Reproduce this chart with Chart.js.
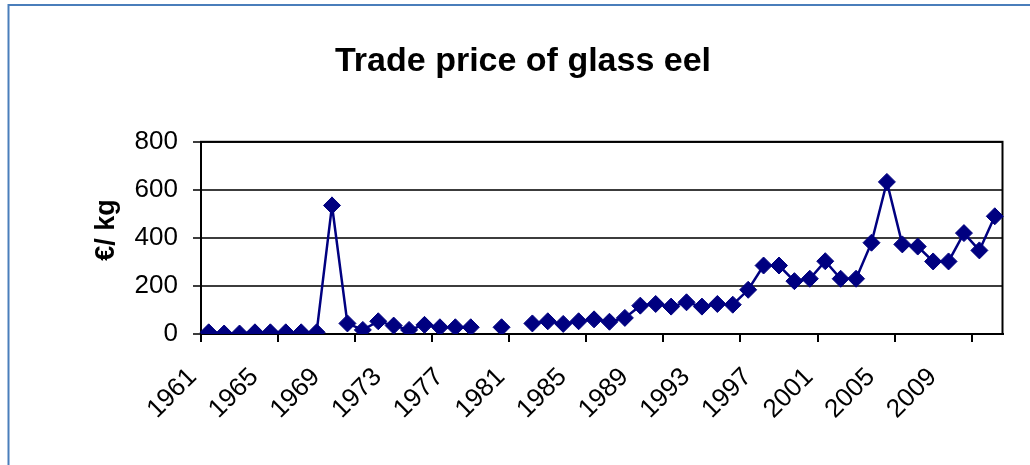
<!DOCTYPE html>
<html>
<head>
<meta charset="utf-8">
<script src="https://cdn.jsdelivr.net/npm/chart.js@4.4.1/dist/chart.umd.min.js"></script>
<style>
  html, body { margin: 0; padding: 0; background: #ffffff; overflow: hidden; }
  #wrap { position: absolute; left: 0; top: 0; width: 1030px; height: 465px; }
</style>
</head>
<body>
<div id="wrap"><canvas id="c" width="1030" height="465"></canvas></div>
<script>
// ---- data ----
const chartTitle = 'Trade price of glass eel';
const yAxisTitle = '€/ kg';
const years = ['1961','1962','1963','1964','1965','1966','1967','1968','1969','1970',
               '1971','1972','1973','1974','1975','1976','1977','1978','1979','1980',
               '1981','1982','1983','1984','1985','1986','1987','1988','1989','1990',
               '1991','1992','1993','1994','1995','1996','1997','1998','1999','2000',
               '2001','2002','2003','2004','2005','2006','2007','2008','2009','2010',
               '2011','2012'];
const prices = [7, 2, 2, 7, 7, 7, 7, 7, 535, 44,
                17, 53, 35, 17, 38, 28, 28, 28, null, 28,
                null, 44, 53, 42, 53, 61, 51, 67, 118, 125,
                114, 132, 114, 125, 122, 184, 285, 285, 220, 230,
                303, 230, 230, 380, 633, 373, 364, 302, 302, 420,
                348, 490];
const yTicks = [0, 200, 400, 600, 800];
const labelEvery = 4;    // category labels interval
const tickMarkEvery = 5; // tick marks interval

const FONT = "'Liberation Sans', Arial, sans-serif";
const NAVY = '#000080';

const framePlugin = {
  id: 'frames',
  beforeDraw(chart) {
    const ctx = chart.ctx;
    ctx.save();
    ctx.strokeStyle = '#4a7ebb';
    ctx.lineWidth = 2;
    ctx.strokeRect(8.5, 5, 1100, 600);
    ctx.restore();
  },
  beforeDatasetsDraw(chart) {
    const a = chart.chartArea;
    const ctx = chart.ctx;
    ctx.save();
    ctx.strokeStyle = '#000000';
    ctx.lineWidth = 2;
    ctx.strokeRect(a.left, a.top, a.right - a.left, a.bottom - a.top);
    ctx.restore();
  },
  afterDraw(chart) {
    // y axis title, drawn rotated like the original
    const ctx = chart.ctx;
    const a = chart.chartArea;
    ctx.save();
    ctx.translate(106.5, (a.top + a.bottom) / 2 - 8);
    ctx.rotate(-Math.PI / 2);
    ctx.fillStyle = '#000000';
    ctx.font = 'bold 27px ' + FONT;
    ctx.textAlign = 'center';
    ctx.textBaseline = 'middle';
    ctx.fillText(yAxisTitle, 0, 0);
    ctx.restore();
  }
};

new Chart(document.getElementById('c'), {
  type: 'line',
  data: {
    labels: years,
    datasets: [{
      data: prices,
      borderColor: NAVY,
      backgroundColor: NAVY,
      borderWidth: 2.5,
      pointStyle: 'rectRot',
      pointRadius: 8.5,
      pointBorderWidth: 1,
      pointBackgroundColor: NAVY,
      pointBorderColor: NAVY,
      spanGaps: false,
      tension: 0
    }]
  },
  options: {
    responsive: false,
    animation: false,
    events: [],
    layout: { padding: { left: 16, right: 0, top: 0, bottom: 0 } },
    plugins: {
      legend: { display: false },
      tooltip: { enabled: false },
      title: {
        display: true,
        text: chartTitle,
        color: '#000000',
        font: { family: FONT, size: 34, weight: 'bold' },
        padding: { top: 41, bottom: 60 }
      }
    },
    scales: {
      x: {
        type: 'category',
        offset: true,
        afterFit(scale) {
          scale.height = 131;
          scale.paddingLeft = 0;
          scale.paddingRight = 27.5;
        },
        grid: {
          display: true,
          offset: true,
          drawOnChartArea: false,
          drawTicks: true,
          tickLength: 8,
          lineWidth: 2,
          color: (ctx) => (ctx.index !== undefined && ctx.index % tickMarkEvery === 0) ? '#000000' : 'rgba(0,0,0,0)'
        },
        border: { display: true, color: '#000000', width: 2 },
        ticks: {
          autoSkip: false,
          minRotation: 45,
          maxRotation: 45,
          padding: 20,
          labelOffset: -16,
          color: '#000000',
          font: { family: FONT, size: 26 },
          callback: function(value, index) {
            return index % labelEvery === 0 ? this.getLabelForValue(value) : '';
          }
        }
      },
      y: {
        min: yTicks[0],
        max: yTicks[yTicks.length - 1],
        afterFit(scale) { scale.width = 185; },
        afterBuildTicks(scale) { scale.ticks = yTicks.map(v => ({ value: v })); },
        grid: {
          display: true,
          drawOnChartArea: true,
          drawTicks: true,
          tickLength: 8,
          lineWidth: 2,
          color: '#3c3c3c'
        },
        border: { display: true, color: '#000000', width: 2 },
        ticks: {
          padding: 15,
          color: '#000000',
          font: { family: FONT, size: 26 }
        },
        title: { display: false }
      }
    }
  },
  plugins: [framePlugin]
});
</script>
</body>
</html>
